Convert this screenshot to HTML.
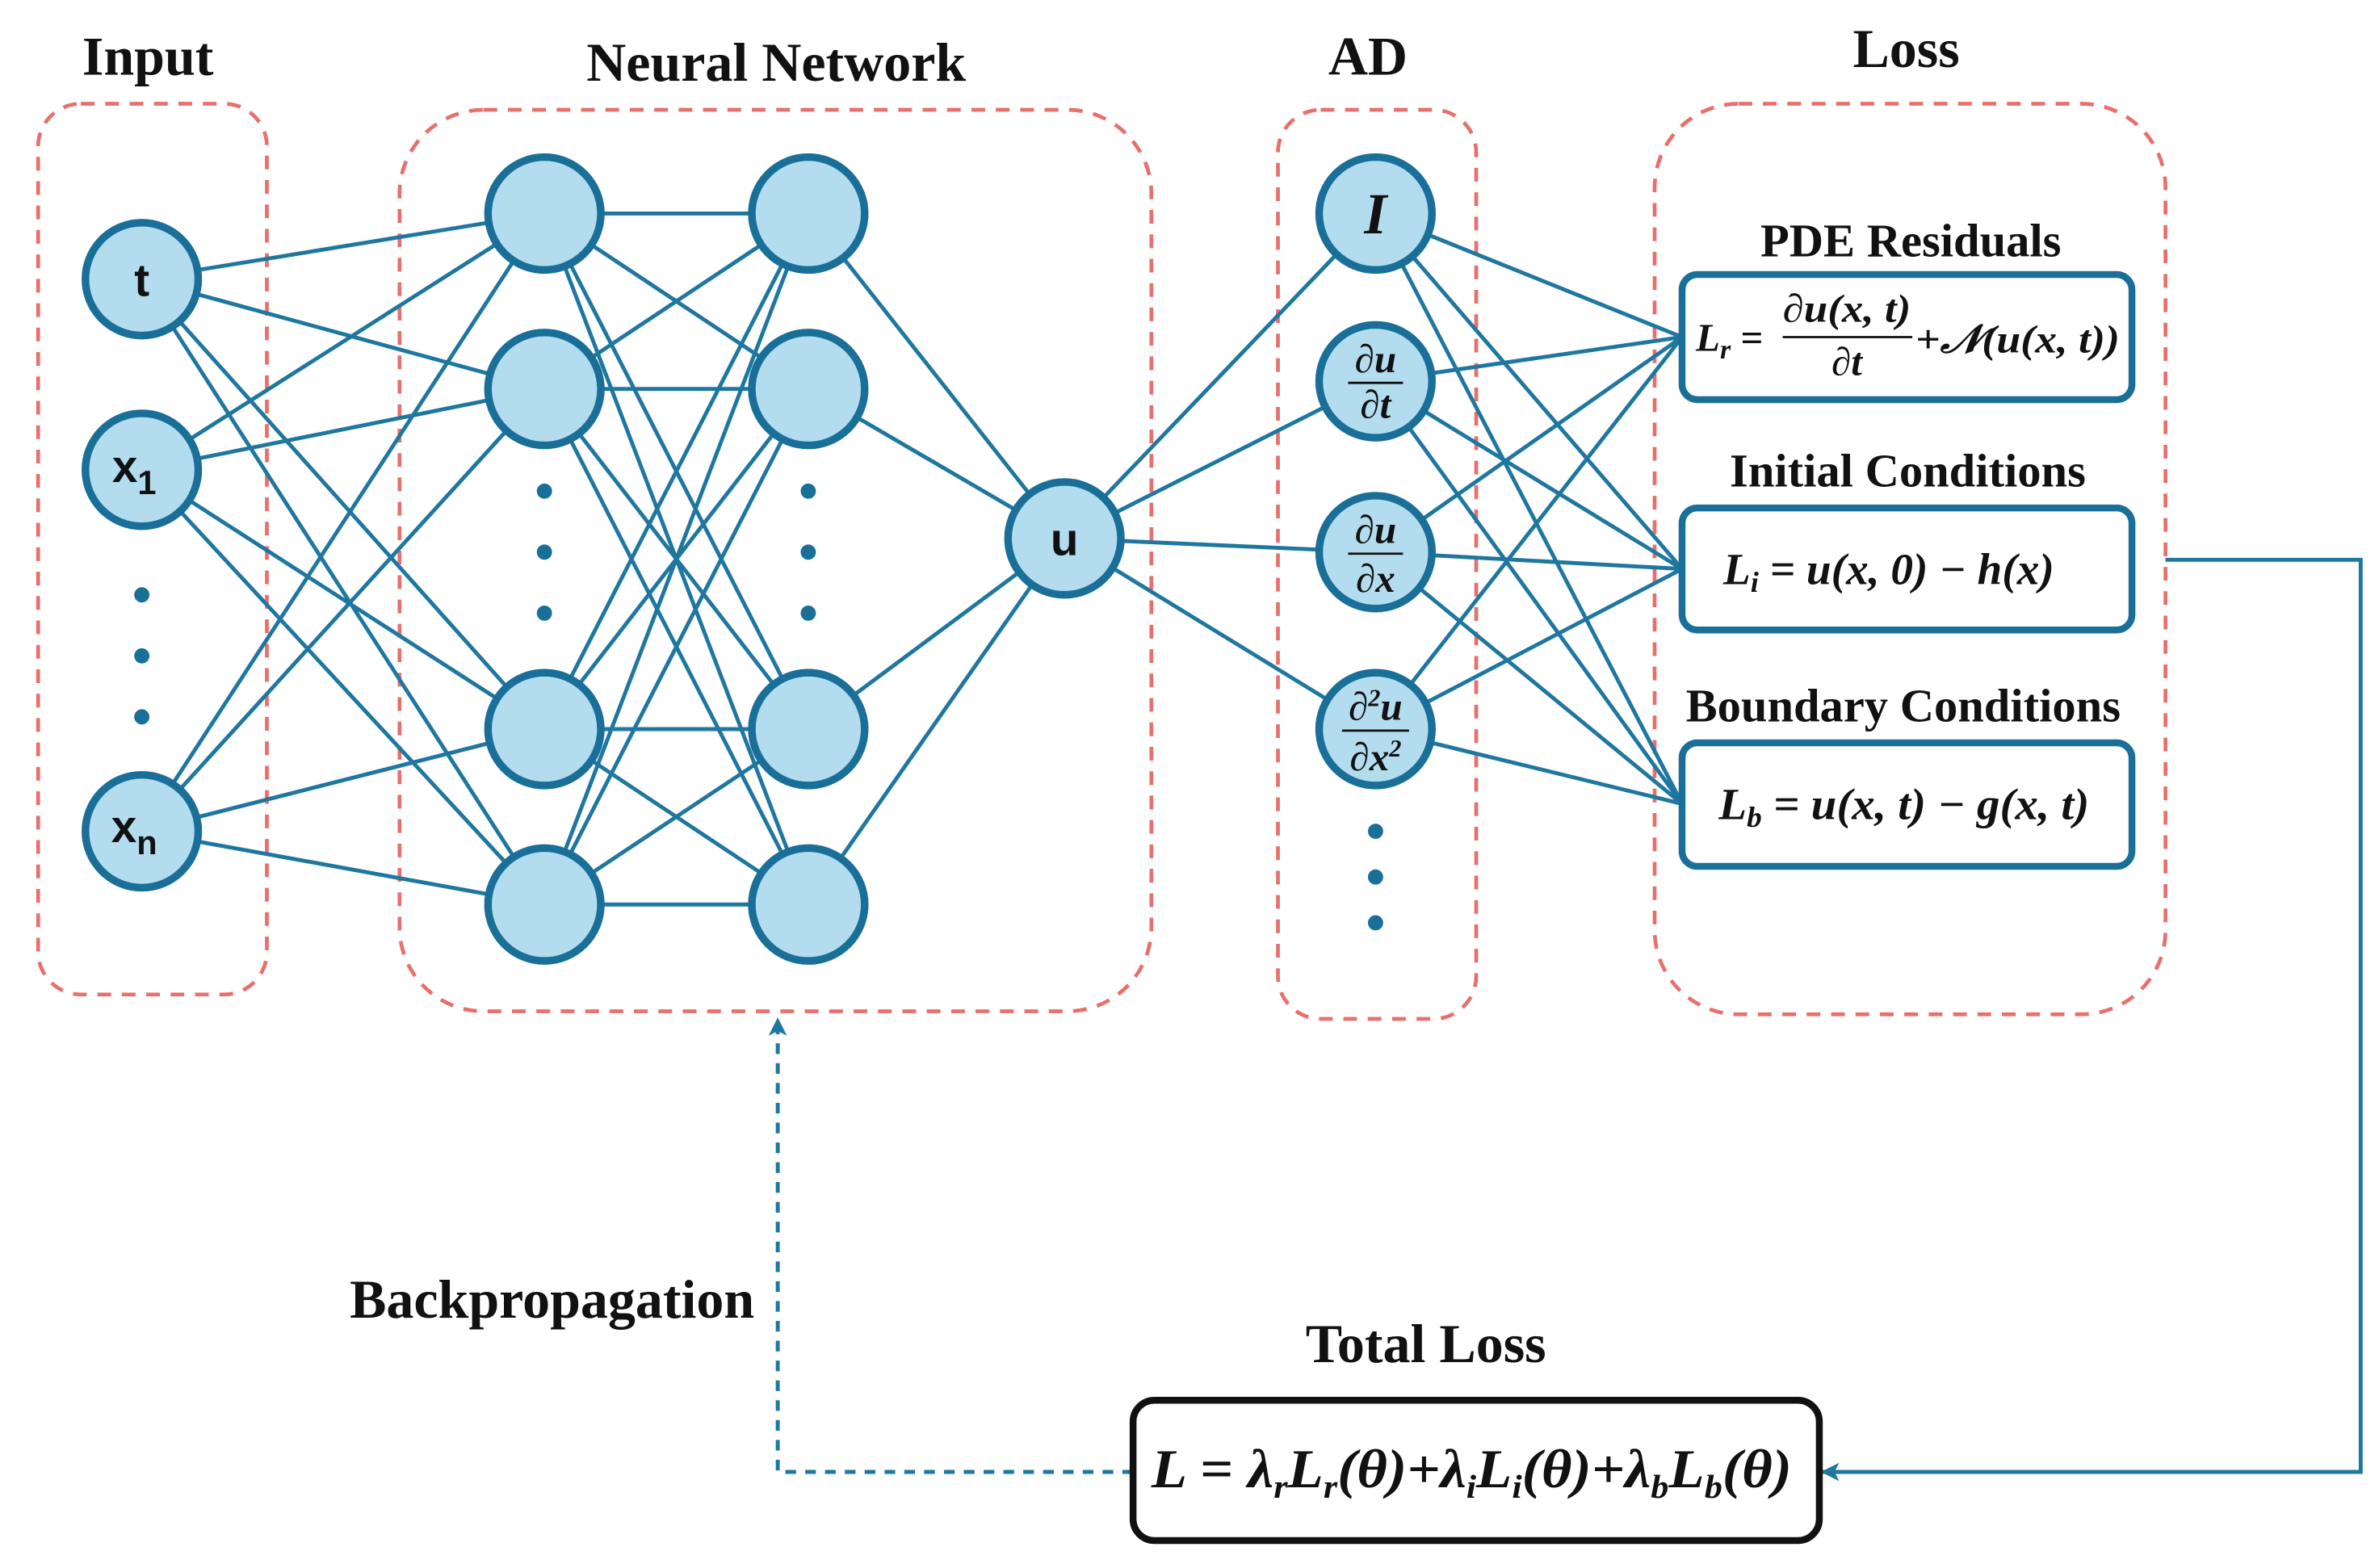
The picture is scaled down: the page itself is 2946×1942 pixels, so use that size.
<!DOCTYPE html>
<html><head><meta charset="utf-8"><style>
html,body{margin:0;padding:0;background:#fff;}
svg{display:block;}
.t{font-family:"Liberation Serif",serif;font-weight:bold;fill:#111;}
.m{font-family:"Liberation Serif",serif;font-weight:bold;font-style:italic;fill:#111;}
.s{font-family:"Liberation Sans",sans-serif;font-weight:bold;fill:#111;}
</style></head><body>
<svg width="2946" height="1942" viewBox="0 0 1560 1028" preserveAspectRatio="none" xmlns="http://www.w3.org/2000/svg">
<defs>
<marker id="ar" markerWidth="12" markerHeight="12" refX="11" refY="6" orient="auto" markerUnits="userSpaceOnUse">
<path d="M0,0 L12,6 L0,12 L3,6 Z" fill="#1f77a0"/></marker>
</defs>
<g fill="none" stroke="#e8706c" stroke-width="2.5" stroke-dasharray="9,7">
<rect x="25" y="68" width="150" height="584" rx="28"/>
<rect x="262" y="72" width="493" height="591" rx="55"/>
<rect x="838" y="72" width="130" height="596" rx="28"/>
<rect x="1085" y="68" width="335" height="597" rx="55"/>
</g>
<text class="t" x="97" y="49" font-size="36" text-anchor="middle">Input</text>
<text class="t" x="509" y="53" font-size="36" text-anchor="middle">Neural Network</text>
<text class="t" x="897" y="49" font-size="36" text-anchor="middle">AD</text>
<text class="t" x="1250" y="44" font-size="36" text-anchor="middle">Loss</text>
<g stroke="#1f77a0" stroke-width="2.6" fill="none">
<path d="M93,183L357,140M93,183L357,255M93,183L357,478M93,183L357,593
M93,308L357,140M93,308L357,255M93,308L357,478M93,308L357,593
M93,545L357,140M93,545L357,255M93,545L357,478M93,545L357,593"/>
<path d="M357,140L530,140M357,140L530,255M357,140L530,478M357,140L530,593
M357,255L530,140M357,255L530,255M357,255L530,478M357,255L530,593
M357,478L530,140M357,478L530,255M357,478L530,478M357,478L530,593
M357,593L530,140M357,593L530,255M357,593L530,478M357,593L530,593"/>
<path d="M530,140L698,353M530,255L698,353M530,478L698,353M530,593L698,353"/>
<path d="M698,353L902,140M698,353L902,250M698,353L902,362M698,353L902,478"/>
<path d="M902,140L1103,221M902,140L1103,373M902,140L1103,527
M902,250L1103,221M902,250L1103,373M902,250L1103,527
M902,362L1103,221M902,362L1103,373M902,362L1103,527
M902,478L1103,221M902,478L1103,373M902,478L1103,527"/>
</g>
<g fill="#b3dcef" stroke="#1a6f99" stroke-width="5">
<circle cx="93" cy="183" r="37"/><circle cx="93" cy="308" r="37"/><circle cx="93" cy="545" r="37"/>
<circle cx="357" cy="140" r="37"/><circle cx="357" cy="255" r="37"/><circle cx="357" cy="478" r="37"/><circle cx="357" cy="593" r="37"/>
<circle cx="530" cy="140" r="37"/><circle cx="530" cy="255" r="37"/><circle cx="530" cy="478" r="37"/><circle cx="530" cy="593" r="37"/>
<circle cx="698" cy="353" r="37"/>
<circle cx="902" cy="140" r="37"/><circle cx="902" cy="250" r="37"/><circle cx="902" cy="362" r="37"/><circle cx="902" cy="478" r="37"/>
</g>
<g fill="#1a6f99">
<circle cx="93" cy="390" r="5"/><circle cx="93" cy="430" r="5"/><circle cx="93" cy="470" r="5"/>
<circle cx="357" cy="322" r="5"/><circle cx="357" cy="362" r="5"/><circle cx="357" cy="402" r="5"/>
<circle cx="530" cy="322" r="5"/><circle cx="530" cy="362" r="5"/><circle cx="530" cy="402" r="5"/>
<circle cx="902" cy="545" r="5"/><circle cx="902" cy="575" r="5"/><circle cx="902" cy="605" r="5"/>
</g>
<text class="s" x="93" y="194" font-size="30" text-anchor="middle">t</text>
<text class="s" x="88" y="316" font-size="30" text-anchor="middle">x<tspan font-size="22" dy="8">1</tspan></text>
<text class="s" x="88" y="552" font-size="30" text-anchor="middle">x<tspan font-size="22" dy="8">n</tspan></text>
<text class="s" x="698" y="364" font-size="30" text-anchor="middle">u</text>
<text class="m" x="902" y="153" font-size="38" text-anchor="middle">I</text>
<g class="m" font-size="26" text-anchor="middle">
<text x="902" y="244">∂u</text><text x="902" y="274">∂t</text>
<text x="902" y="356">∂u</text><text x="902" y="388">∂x</text>
<text x="902" y="472">∂<tspan font-size="16" dy="-9">2</tspan><tspan dy="9">u</tspan></text>
<text x="902" y="505">∂x<tspan font-size="16" dy="-9">2</tspan></text>
</g>
<g stroke="#111" stroke-width="1.5">
<line x1="884" y1="251" x2="920" y2="251"/><line x1="884" y1="363" x2="920" y2="363"/><line x1="880" y1="479" x2="924" y2="479"/>
</g>
<g fill="#fff" stroke="#1a6f99" stroke-width="4.5">
<rect x="1103" y="180" width="295" height="82" rx="10"/>
<rect x="1103" y="333" width="295" height="80" rx="10"/>
<rect x="1103" y="487" width="295" height="81" rx="10"/>
</g>
<text class="t" x="1253" y="168" font-size="31" text-anchor="middle">PDE Residuals</text>
<text class="t" x="1251" y="319" font-size="31" text-anchor="middle">Initial Conditions</text>
<text class="t" x="1248" y="473" font-size="31" text-anchor="middle">Boundary Conditions</text>
<text class="m" x="1112" y="230" font-size="26">L<tspan font-size="18" dy="5">r</tspan><tspan dy="-5" font-style="normal"> =</tspan></text>
<text class="m" x="1211" y="211" font-size="26" text-anchor="middle" textLength="84" lengthAdjust="spacingAndGlyphs">∂u(x, t)</text>
<line x1="1169" y1="221" x2="1254" y2="221" stroke="#111" stroke-width="1.5"/>
<text class="m" x="1211" y="246" font-size="26" text-anchor="middle">∂t</text>
<text class="m" x="1256" y="231" font-size="26" textLength="134" lengthAdjust="spacingAndGlyphs">+𝒩(u(x, t))</text>
<text class="m" x="1130" y="383" font-size="29" textLength="217" lengthAdjust="spacingAndGlyphs">L<tspan font-size="19" dy="5">i</tspan><tspan dy="-5"> = u(x, 0) − h(x)</tspan></text>
<text class="m" x="1127" y="537" font-size="29" textLength="243" lengthAdjust="spacingAndGlyphs">L<tspan font-size="19" dy="5">b</tspan><tspan dy="-5"> = u(x, t) − g(x, t)</tspan></text>
<path d="M1420,367 L1548,367 L1548,965 L1195,965" fill="none" stroke="#1f77a0" stroke-width="2.6" marker-end="url(#ar)"/>
<path d="M743,965 L510,965 L510,668" fill="none" stroke="#1f77a0" stroke-width="2.6" stroke-dasharray="7,6" marker-end="url(#ar)"/>
<rect x="743" y="918" width="450" height="92" rx="14" fill="#fff" stroke="#111" stroke-width="4.5"/>
<text class="t" x="935" y="893" font-size="36" text-anchor="middle">Total Loss</text>
<text class="m" x="755" y="975" font-size="36" textLength="420" lengthAdjust="spacingAndGlyphs">L = λ<tspan font-size="22" dy="7">r</tspan><tspan dy="-7">L</tspan><tspan font-size="22" dy="7">r</tspan><tspan dy="-7">(θ)+λ</tspan><tspan font-size="22" dy="7">i</tspan><tspan dy="-7">L</tspan><tspan font-size="22" dy="7">i</tspan><tspan dy="-7">(θ)+λ</tspan><tspan font-size="22" dy="7">b</tspan><tspan dy="-7">L</tspan><tspan font-size="22" dy="7">b</tspan><tspan dy="-7">(θ)</tspan></text>
<text class="t" x="362" y="864" font-size="36" text-anchor="middle">Backpropagation</text>
</svg>
</body></html>
